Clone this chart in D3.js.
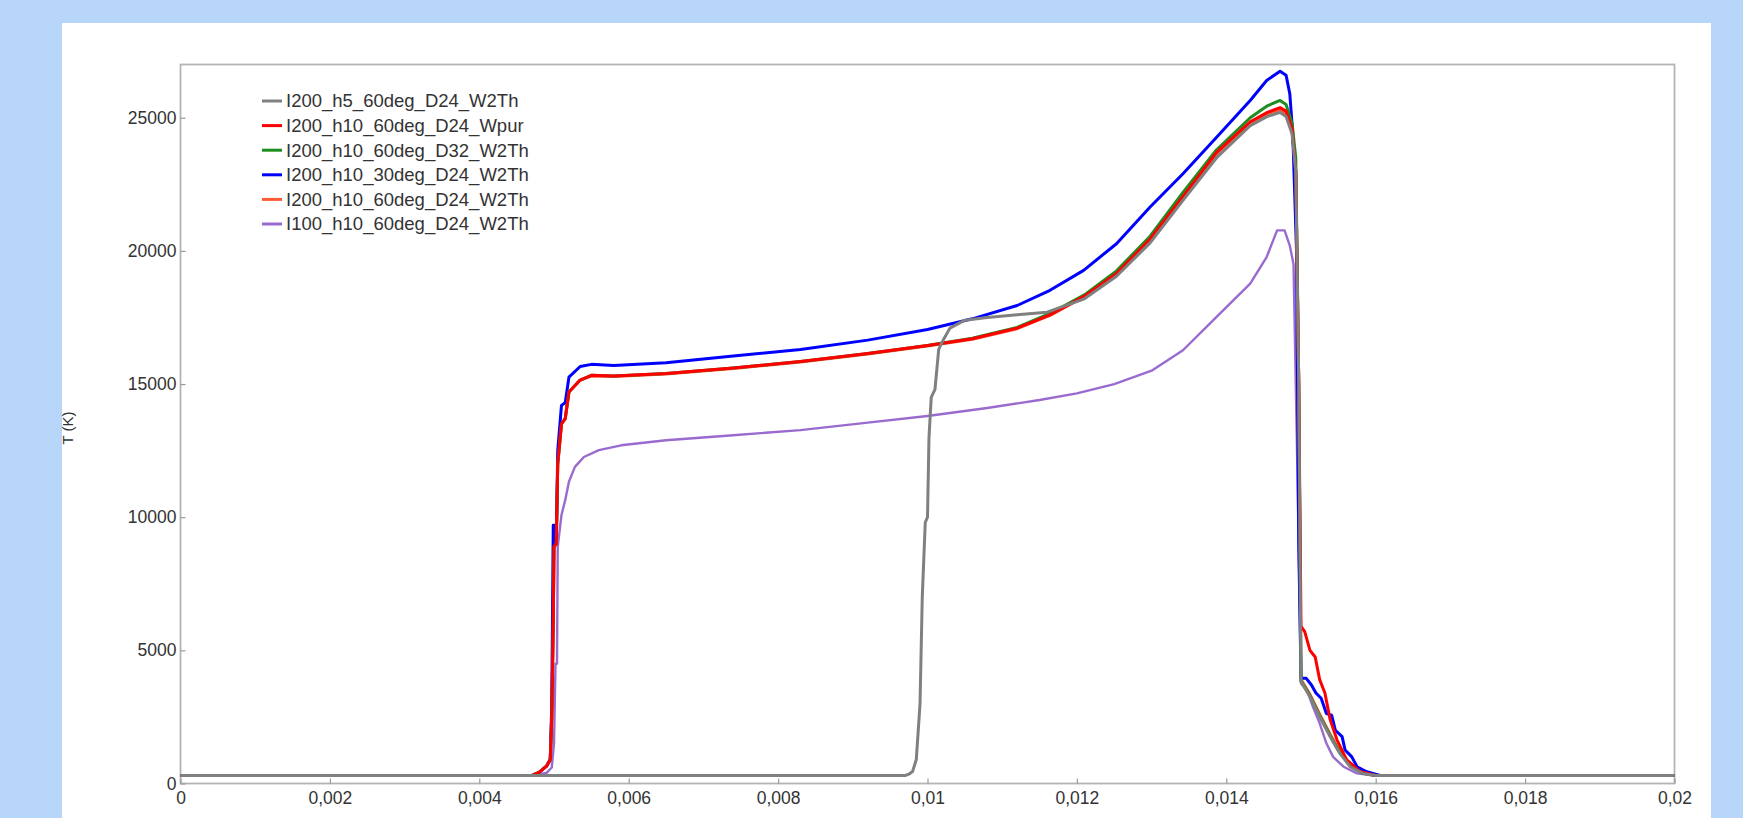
<!DOCTYPE html>
<html>
<head>
<meta charset="utf-8">
<script src="https://cdn.jsdelivr.net/npm/d3@7"></script>
<style>
  body { margin: 0; background: #b8d6f9; }
  svg { display: block; }
  text { font-family: "Liberation Sans", Arial, sans-serif; }
</style>
</head>
<body>
<div id="chart"></div>
<script>
// series names, legend order
const seriesNames = [
  "I200_h5_60deg_D24_W2Th",
  "I200_h10_60deg_D24_Wpur",
  "I200_h10_60deg_D32_W2Th",
  "I200_h10_30deg_D24_W2Th",
  "I200_h10_60deg_D24_W2Th",
  "I100_h10_60deg_D24_W2Th"
];
const seriesColors = ["#808080", "#ff0000", "#1f8c1f", "#0000ff", "#ff5a36", "#9a6bcf"];

const xTicks = [0, 0.002, 0.004, 0.006, 0.008, 0.01, 0.012, 0.014, 0.016, 0.018, 0.02];
const yTicks = [0, 5000, 10000, 15000, 20000, 25000];

// [time (s), T (K)]
const grayH5 = [
  [0, 300], [0.0097, 300], [0.00975, 350], [0.0098, 450], [0.00985, 900], [0.0099, 3000],
  [0.00993, 7000], [0.00997, 9800], [0.01, 10000], [0.01002, 13000], [0.01005, 14500],
  [0.0101, 14800], [0.01015, 16300], [0.0102, 16600], [0.0103, 17100], [0.0105, 17400],
  [0.0108, 17500], [0.0112, 17600], [0.0116, 17700], [0.0121, 18200], [0.01253, 19050],
  [0.01298, 20300], [0.01342, 21900], [0.01387, 23500], [0.01432, 24700], [0.01455, 25050],
  [0.01472, 25200], [0.0148, 25050], [0.01488, 24400], [0.01493, 23000], [0.01497, 15000],
  [0.015, 3820], [0.01512, 3260], [0.01525, 2500], [0.01539, 1760], [0.01552, 1130],
  [0.01566, 630], [0.01583, 380], [0.016, 300], [0.02, 300]
];
const redWpur = [
  [0, 300], [0.0047, 300], [0.0048, 420], [0.0049, 650], [0.00495, 900], [0.00497, 2500],
  [0.00499, 6000], [0.005, 8900], [0.00503, 9000], [0.00505, 12000], [0.0051, 13500],
  [0.00515, 13700], [0.0052, 14700], [0.00535, 15150], [0.0055, 15330], [0.0058, 15300],
  [0.0065, 15400], [0.0074, 15600], [0.0083, 15850], [0.0092, 16150], [0.01, 16450],
  [0.0106, 16700], [0.0112, 17100], [0.01164, 17600], [0.0121, 18300], [0.01253, 19150],
  [0.01298, 20450], [0.01342, 22050], [0.01387, 23700], [0.01432, 24850], [0.01455, 25200],
  [0.01472, 25380], [0.0148, 25250], [0.01488, 24600], [0.01493, 23000], [0.01497, 15000],
  [0.015, 5900], [0.01505, 5700], [0.01512, 5000], [0.01519, 4750], [0.01525, 3900],
  [0.01532, 3400], [0.01539, 2400], [0.01548, 1650], [0.01561, 900], [0.01579, 450],
  [0.016, 300], [0.02, 300]
];
const greenD32 = [
  [0, 300], [0.0047, 300], [0.0048, 420], [0.0049, 650], [0.00495, 900], [0.00497, 2500],
  [0.00499, 6000], [0.005, 8900], [0.00503, 9000], [0.00505, 12000], [0.0051, 13500],
  [0.00515, 13700], [0.0052, 14700], [0.00535, 15150], [0.0055, 15330], [0.0058, 15300],
  [0.0065, 15400], [0.0074, 15600], [0.0083, 15850], [0.0092, 16150], [0.01, 16450],
  [0.0106, 16720], [0.0112, 17130], [0.01164, 17650], [0.0121, 18350], [0.01253, 19250],
  [0.01298, 20550], [0.01342, 22200], [0.01387, 23800], [0.01432, 25000], [0.01455, 25450],
  [0.01472, 25650], [0.0148, 25500], [0.01488, 24800], [0.01493, 23500], [0.01497, 15000],
  [0.015, 3850], [0.01512, 3300], [0.01525, 2550], [0.01539, 1800], [0.01552, 1150],
  [0.01566, 650], [0.01583, 380], [0.016, 300], [0.02, 300]
];
const blue30deg = [
  [0, 300], [0.0047, 300], [0.0048, 420], [0.0049, 650], [0.00495, 900], [0.00497, 3000],
  [0.00499, 9700], [0.00502, 9700], [0.00503, 9000], [0.00505, 12500], [0.0051, 14200],
  [0.00515, 14300], [0.0052, 15260], [0.00535, 15660], [0.0055, 15740], [0.0058, 15700],
  [0.0065, 15800], [0.0074, 16050], [0.0083, 16300], [0.0092, 16650], [0.01, 17050],
  [0.0106, 17450], [0.0112, 17950], [0.01164, 18520], [0.01209, 19270], [0.01253, 20270],
  [0.01298, 21650], [0.01342, 22900], [0.01387, 24270], [0.01432, 25650], [0.01454, 26400],
  [0.01472, 26750], [0.0148, 26600], [0.01485, 25900], [0.01489, 24400], [0.01494, 20000],
  [0.01497, 9000], [0.015, 3950], [0.01507, 3950], [0.01514, 3700], [0.0152, 3400],
  [0.01527, 3200], [0.01534, 2630], [0.01541, 2570], [0.01546, 2000], [0.01555, 1760],
  [0.01559, 1260], [0.01568, 1000], [0.01575, 630], [0.01588, 440], [0.01606, 300], [0.02, 300]
];
const orangeD24 = [
  [0, 300], [0.0047, 300], [0.0048, 420], [0.0049, 650], [0.00495, 900], [0.00497, 2500],
  [0.00499, 6000], [0.005, 8900], [0.00503, 9000], [0.00505, 12000], [0.0051, 13500],
  [0.00515, 13700], [0.0052, 14700], [0.00535, 15150], [0.0055, 15300], [0.0058, 15280],
  [0.0065, 15380], [0.0074, 15580], [0.0083, 15830], [0.0092, 16130], [0.01, 16430],
  [0.0106, 16680], [0.0112, 17080], [0.01164, 17580], [0.0121, 18280], [0.01253, 19130],
  [0.01298, 20420], [0.01342, 22000], [0.01387, 23650], [0.01432, 24800], [0.01455, 25150],
  [0.01472, 25300], [0.0148, 25150], [0.01488, 24500], [0.01493, 23000], [0.01497, 15000],
  [0.015, 3900], [0.01512, 3350], [0.01525, 2600], [0.01539, 1850], [0.01552, 1200],
  [0.01566, 700], [0.01583, 400], [0.016, 300], [0.02, 300]
];
const purpleI100 = [
  [0, 300], [0.0047, 300], [0.0049, 400], [0.00497, 600], [0.005, 1500], [0.00502, 4500],
  [0.00504, 4500], [0.00505, 8900], [0.0051, 10080], [0.00515, 10640], [0.0052, 11330],
  [0.00528, 11890], [0.0054, 12260], [0.0056, 12520], [0.0059, 12700], [0.0065, 12890],
  [0.0074, 13080], [0.0083, 13270], [0.0092, 13550], [0.01, 13800], [0.0108, 14100],
  [0.0115, 14400], [0.012, 14650], [0.0125, 15000], [0.013, 15500], [0.01342, 16270],
  [0.01387, 17520], [0.01432, 18770], [0.01454, 19770], [0.01468, 20770], [0.01478, 20770],
  [0.01485, 20200], [0.0149, 19500], [0.01495, 12000], [0.015, 3760], [0.01508, 3500],
  [0.01516, 2880], [0.01525, 2260], [0.01534, 1510], [0.01543, 1000], [0.01557, 630],
  [0.01575, 380], [0.01597, 300], [0.02, 300]
];

const seriesData = [grayH5, redWpur, greenD32, blue30deg, orangeD24, purpleI100];
// drawing order (last on top)
const drawOrder = [5, 4, 3, 2, 1, 0];

const W = 1743, H = 818;
const margin = { top: 64.5, right: W - 1674.5, bottom: H - 783.5, left: 180.5 };
const width = W - margin.left - margin.right,
      height = H - margin.top - margin.bottom;

const svg = d3.select("#chart").append("svg")
    .attr("width", W)
    .attr("height", H);

// white panel
svg.append("rect")
    .attr("x", 62).attr("y", 23)
    .attr("width", 1649).attr("height", H - 23)
    .attr("fill", "#ffffff");

const g = svg.append("g")
    .attr("transform", "translate(" + margin.left + "," + margin.top + ")");

const x = d3.scaleLinear().domain([0, 0.02]).range([0, width]);
const y = d3.scaleLinear().domain([0, 27000]).range([height, 0]);

// frame
g.append("rect")
    .attr("width", width).attr("height", height)
    .attr("fill", "none")
    .attr("stroke", "#b4b4b4")
    .attr("stroke-width", 1.8);

const fmtX = d => d === 0 ? "0" : String(+d.toFixed(3)).replace(".", ",");

const xAxis = g.append("g")
    .attr("transform", "translate(0," + height + ")")
    .call(d3.axisBottom(x).tickValues(xTicks).tickFormat(fmtX)
        .tickSizeInner(-5).tickSizeOuter(0).tickPadding(8));
const yAxis = g.append("g")
    .call(d3.axisLeft(y).tickValues(yTicks).tickFormat(d3.format("d"))
        .tickSizeInner(-5).tickSizeOuter(0).tickPadding(4));

[xAxis, yAxis].forEach(a => {
  a.select(".domain").remove();
  a.selectAll(".tick line").attr("stroke", "#999").attr("stroke-width", 1.2);
  a.selectAll(".tick text")
      .attr("fill", "#333")
      .style("font-size", "17.5px");
});

// y label
svg.append("text")
    .attr("transform", "translate(73,428) rotate(-90)")
    .attr("text-anchor", "middle")
    .attr("fill", "#333")
    .style("font-size", "15px")
    .text("T (K)");

// lines
const line = d3.line()
    .x(d => x(d[0]))
    .y(d => y(d[1]));

g.append("clipPath").attr("id", "plotclip")
  .append("rect").attr("width", width).attr("height", height);

drawOrder.forEach(i => {
  g.append("path")
      .datum(seriesData[i])
      .attr("clip-path", "url(#plotclip)")
      .attr("fill", "none")
      .attr("stroke", seriesColors[i])
      .attr("stroke-width", i === 5 ? 2.4 : 3)
      .attr("stroke-linejoin", "round")
      .attr("d", line);
});

// legend
const legend = svg.append("g").attr("transform", "translate(262,101)");
seriesNames.forEach((name, i) => {
  const row = legend.append("g").attr("transform", "translate(0," + (i * 24.6) + ")");
  row.append("line")
      .attr("x1", 0).attr("x2", 20)
      .attr("stroke", seriesColors[i])
      .attr("stroke-width", 3);
  row.append("text")
      .attr("x", 24)
      .attr("dy", "0.35em")
      .attr("fill", "#333")
      .style("font-size", "18.5px")
      .text(name);
});
</script>
</body>
</html>
